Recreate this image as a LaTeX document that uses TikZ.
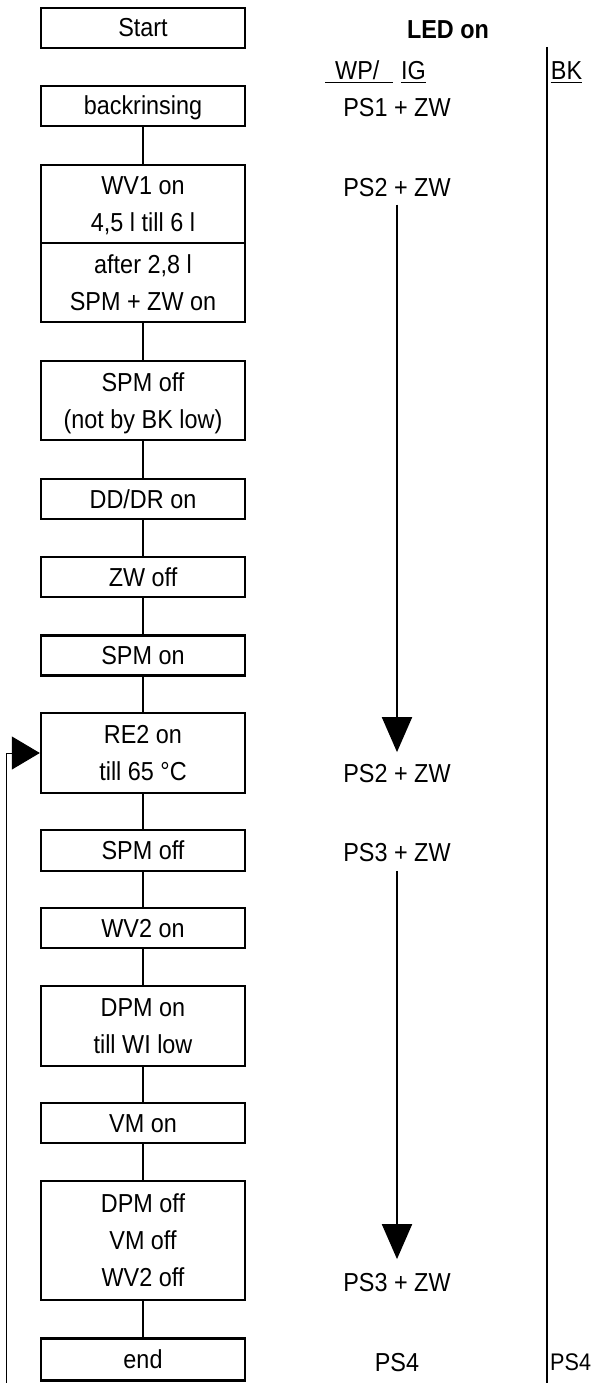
\documentclass[tikz,border=0pt]{standalone}
\usepackage{fontspec}
\setmainfont{Liberation Sans}[FakeStretch=0.9]
\usetikzlibrary{arrows.meta}
\newcommand\ta{\rule{0pt}{24pt}}
\newcommand\tb{\rule[-6pt]{0pt}{6pt}}
\begin{document}
\begin{tikzpicture}[x=1pt,y=-1pt,
  box/.style={draw,line width=2.4pt,minimum width=204pt,inner sep=0pt,align=center,font=\fontsize{26}{37}\selectfont},
  lbl/.style={inner sep=0pt,text height=18.6pt,text depth=0pt,font=\fontsize{26}{30}\selectfont},
  link/.style={line width=1.2pt},
  flow/.style={line width=2pt,-{Triangle[length=35pt,width=30pt]}},
  back/.style={line width=1pt,-{Triangle[length=28pt,width=33pt]}},
  uline/.style={line width=1.8pt},
  sep/.style={line width=2pt}
]
\useasboundingbox (0,0) rectangle (592,1383);
% flow boxes
\node[box,minimum height=40pt] (start) at (143,28) {\ta Start\tb};
\node[box,minimum height=40pt] (back) at (143,106) {\ta backrinsing\tb};
\node[box,minimum height=78pt] (wv1) at (143,204) {\ta WV1 on\\4,5 l till 6 l\tb};
\node[box,minimum height=79pt] (after) at (143,282.5) {\ta after 2,8 l\\SPM + ZW on\tb};
\node[box,minimum height=79pt] (spmoffa) at (143,400.5) {\ta SPM off\\(not by BK low)\tb};
\node[box,minimum height=40pt] (dd) at (143,499) {\ta DD/DR on\tb};
\node[box,minimum height=40pt] (zw) at (143,577) {\ta ZW off\tb};
\node[box,minimum height=40pt] (spmon) at (143,655.5) {\ta SPM on\tb};
\node[box,minimum height=80pt] (re2) at (143,753) {\ta RE2 on\\till 65 °C\tb};
\node[box,minimum height=41pt] (spmoffb) at (143,850.5) {\ta SPM off\tb};
\node[box,minimum height=40pt] (wv2on) at (143,928) {\ta WV2 on\tb};
\node[box,minimum height=80pt] (dpmon) at (143,1026) {\ta DPM on\\till WI low\tb};
\node[box,minimum height=40pt] (vmon) at (143,1123) {\ta VM on\tb};
\node[box,minimum height=119pt] (dpmoff) at (143,1240.5) {\ta DPM off\\VM off\\WV2 off\tb};
\node[box,minimum height=42pt] (end) at (143,1359.5) {\ta end\tb};
% connectors
\draw[link] (back) -- (wv1);
\draw[link] (after) -- (spmoffa);
\draw[link] (spmoffa) -- (dd);
\draw[link] (dd) -- (zw);
\draw[link] (zw) -- (spmon);
\draw[link] (spmon) -- (re2);
\draw[link] (re2) -- (spmoffb);
\draw[link] (spmoffb) -- (wv2on);
\draw[link] (wv2on) -- (dpmon);
\draw[link] (dpmon) -- (vmon);
\draw[link] (vmon) -- (dpmoff);
\draw[link] (dpmoff) -- (end);
% feedback loop
\coordinate (fb) at (6,1383);
\draw[back] (fb) |- (re2.west);
% LED column
\node[lbl,font=\fontsize{26}{30}\selectfont\bfseries] (led) at (448,29) {LED on};
\node[lbl,anchor=west] (wp) at (335,70) {WP/};
\node[lbl] (ig) at (413.5,70) {IG};
\node[lbl] (bk) at (566.5,70) {BK};
\draw[uline] ([xshift=-10pt,yshift=-3pt]wp.south west) -- ([xshift=13pt,yshift=-3pt]wp.south east);
\draw[uline] ([yshift=-3pt]ig.south west) -- ([yshift=-3pt]ig.south east);
\draw[uline] ([yshift=-3pt]bk.south west) -- ([yshift=-3pt]bk.south east);
\coordinate (bktop) at (547,47);
\coordinate (bkbot) at (547,1383);
\draw[sep] (bktop) -- (bkbot);
\node[lbl] (ps1) at (397,107) {PS1 + ZW};
\node[lbl] (ps2a) at (397,187) {PS2 + ZW};
\node[lbl] (ps2b) at (397,773) {PS2 + ZW};
\node[lbl] (ps3a) at (397,852) {PS3 + ZW};
\node[lbl] (ps3b) at (397,1282) {PS3 + ZW};
\node[lbl] (ps4) at (397,1362) {PS4};
\node[lbl,anchor=west,font=\fontsize{24}{28}\selectfont,text height=17.2pt] (ps4bk) at (550,1362) {PS4};
\draw[flow,shorten <=8pt,shorten >=11.4pt] (ps2a) -- (ps2b);
\draw[flow,shorten <=9.4pt,shorten >=13.4pt] (ps3a) -- (ps3b);
\end{tikzpicture}
\end{document}
